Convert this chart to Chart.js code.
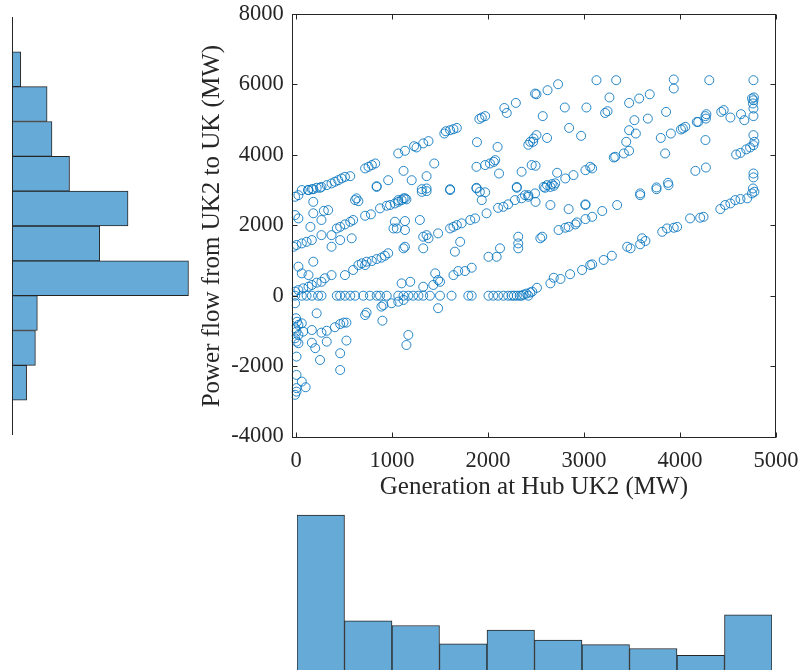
<!DOCTYPE html>
<html lang="en">
<head>
<meta charset="utf-8">
<title>Generation at Hub UK2 vs power flow to UK</title>
<script src="https://cdn.jsdelivr.net/npm/chart.js"></script>
<style>
  html, body { margin: 0; padding: 0; background: #fff; overflow: hidden; }
  body { width: 798px; height: 670px; position: relative; }
  canvas { position: absolute; }
</style>
</head>
<body>
<canvas id="leftHist" style="left:12px;top:17px" width="195" height="418"></canvas>
<canvas id="main" style="left:190px;top:0px" width="608" height="510"></canvas>
<canvas id="bottomHist" style="left:297px;top:509px" width="475" height="161"></canvas>

<script>
// [generation at hub UK2 (MW), power flow UK2 -> UK (MW)]
const scatterPoints = [
  [2490,5740],[2290,5475],[2170,5330],[2195,5190],[1970,5100],[1935,5060],[1910,5020],[1675,4765],[1640,4730],[1605,4700],
  [1560,4670],[1545,4605],[1885,4360],[2100,4225],[2420,4285],[2470,4370],[1380,4390],[1325,4325],[1255,4210],[1230,4245],
  [1135,4115],[1065,4040],[1440,3755],[1120,3545],[1205,3280],[1360,3395],[960,3280],[840,3110],[825,3755],[790,3710],
  [755,3660],[720,3615],[565,3395],[510,3375],[475,3330],[440,3280],[405,3235],[370,3190],[320,3140],[265,3090],
  [215,3065],[165,3025],[130,3000],[1880,3660],[1970,3710],[2020,3755],[2075,3850],[2115,3470],[2350,3520],[2455,3710],
  [1880,3065],[1605,3025],[1360,3045],[1310,3025],[2300,3090],
  [2505,5720],[2620,5835],[2730,6005],[3130,6120],[3335,6120],[3935,6140],[3935,5885],[4305,6120],[4765,6120],[3265,5630],
  [3685,5720],[3575,5600],[3470,5475],[2800,5345],[3025,5345],[3220,5190],[3245,5240],[2570,5100],[3525,4985],[3665,5030],
  [3855,5220],[4455,5270],[4430,5220],[4525,5060],[4265,5100],[4275,5155],[4175,4935],[4635,5155],[4670,4985],[4750,5600],
  [4770,5630],[4765,5550],[4760,5460],[4765,5315],[4765,5100],[2845,4765],[2970,4540],[2615,4480],[2505,4560],[2475,4465],
  [2440,4370],[3470,4700],[3540,4605],[3440,4370],[3470,4115],[3415,4040],[3310,3925],[3325,3945],[3800,4480],[3905,4605],
  [4010,4720],[4030,4750],[4055,4795],[4190,4935],[4270,5030],[4265,4420],[3845,4040],[4585,4010],[4630,4055],[4690,4155],
  [4730,4210],[4765,4275],[4775,4370],[4765,4560],[2495,3690],[2720,3490],[2615,3140],[2580,3090],[2665,3170],[2700,3190],
  [2805,3330],[2890,3425],[3015,3565],[3085,3615],[3065,3660],[4160,3545],[4270,3640],[3755,3075],[3875,3205],[4765,3470],
  [4765,3360],[4760,3045],
  [60,3000],[125,3000],[180,3025],[250,3065],[-10,2810],[25,2855],[840,3090],[1310,2950],[1360,2970],[1605,3000],
  [1880,3045],[1915,2950],[1970,2935],[1935,2715],[2300,3065],[180,2665],[615,2715],[650,2685],[1135,2765],[1100,2715],
  [1065,2665],[1030,2620],[980,2575],[945,2555],[875,2480],[780,2310],[720,2270],[-10,2290],[25,2195],[180,2340],
  [265,2150],[335,2430],[460,1955],[510,2025],[565,2100],[595,2150],[425,1910],[370,1720],[265,1720],[165,1580],
  [110,1530],[60,1485],[5,1440],[-25,1390],[370,1390],[460,1580],[580,1630],[1030,2100],[1015,1910],[1050,1910],
  [1135,2120],[1135,1865],[1290,2150],[1325,1675],[1360,1720],[1380,1630],[1325,1345],[1480,1770],[1605,1910],[1640,1955],
  [1675,2005],[1725,2055],[1815,2150],[1865,2195],[1985,2340],[2105,2495],[2160,2525],[2210,2595],[2280,2715],[2350,2765],
  [2420,2855],[2490,2905],[1710,1530],[1655,1250],[2005,1105],[2090,1105],[2125,1345],[2315,1675],[2315,1485],[2315,1345],
  [1135,1390],[1120,1345],[290,2410],[150,1955],[630,2765],[1065,2715],[1120,2765],[1150,2735],[2385,2855],[2420,2810],
  [3585,2905],[2060,3800],
  [650,870],[685,920],[735,965],[790,985],[840,1040],[890,1080],[925,1135],[960,1205],[720,870],[595,730],
  [510,585],[370,585],[300,495],[265,395],[215,370],[165,305],[130,255],[75,210],[25,160],[-10,115],
  [25,825],[180,965],[60,635],[130,585],[1450,635],[1480,445],[1640,585],[1690,700],[1760,700],[1830,795],
  [1100,350],[1190,395],[1325,255],[1430,305],[1500,395],
  [-10,0],[60,0],[110,0],[165,0],[230,0],[265,0],[425,0],[460,0],[510,0],[565,0],
  [615,0],[700,0],[770,0],[840,0],[875,0],[945,0],[1065,0],[1120,0],[1170,0],[1220,0],
  [1275,0],[1325,0],[1395,0],[1500,0],[1620,0],[1795,0],[1830,0],[2005,0],[2055,0],[2105,0],
  [2160,0],[2210,0],[2245,0],[2270,0],[2300,0],[2330,0],[2350,0],[2420,0],[2370,30],[2400,60],[2440,90],
  [2595,3065],[2650,3090],[2685,3120],[2495,2665],[2650,2575],[2840,2460],[3015,2595],[3015,2575],[3190,2405],[3345,2575],
  [3585,2855],[3755,3025],[3880,3140],[2545,1630],[2565,1675],[2735,1865],[2805,1930],[2840,1955],[2925,2080],[2910,2025],
  [3015,2175],[3085,2240],
  [2460,115],[2510,225],[2650,350],[2685,510],[2755,475],[2855,610],[2980,730],[3065,870],[3085,890],[3205,1015],
  [3290,1135],[3450,1390],[3485,1345],[3585,1460],[3640,1555],[3605,1630],[3815,1815],[3865,1910],[3935,1930],[3970,1955],
  [4105,2195],[4210,2215],[4245,2240],[4420,2460],[4470,2575],[4525,2620],[4575,2715],[4630,2745],[4700,2765],[4750,2905],
  [4775,2950],
  [-10,-215],[215,-500],[720,-550],[735,-480],[890,-310],[910,-265],[995,-215],[1065,-170],[1120,-120],[900,-710],
  [1480,-355],[0,-640],[10,-740],[25,-830],[-10,-925],[5,-1020],[25,-1115],[-10,-1210],[5,-1305],[25,-1350],
  [60,-785],[75,-1020],[165,-975],[265,-1050],[320,-995],[405,-895],[460,-805],[495,-765],[525,-765],[165,-1335],
  [200,-1490],[320,-1305],[525,-1275],[5,-1730],[250,-1825],[460,-1635],[460,-2110],[1170,-1115],[1150,-1400],[5,-2250],
  [60,-2440],[100,-2600],[5,-2625],[5,-2725],[-10,-2815]
];

const xTicks = [0, 1000, 2000, 3000, 4000, 5000];
const yTicks = [-4000, -2000, 0, 2000, 4000, 6000, 8000];

// marginal histogram of power flow (1000 MW bins, from -4000 up to 8000)
const flowBins = ['-4000', '-3000', '-2000', '-1000', '0', '1000', '2000', '3000', '4000', '5000', '6000', '7000'];
const flowCounts = [0, 15, 24, 26, 181, 90, 119, 59, 41, 36, 9, 0];

// marginal histogram of generation (10 bins of about 495 MW)
const genBins = ['0', '495', '990', '1485', '1980', '2475', '2970', '3465', '3960', '4455'];
const genCounts = [202, 64, 58, 34, 52, 39, 33, 28, 19, 72];

const ink = '#262626';
const serif = "'Liberation Serif', 'Times New Roman', serif";
const barFill = '#66aad7';

const frameTicks = {
  id: 'frameTicks',
  afterDraw(chart) {
    const { ctx, chartArea: a, scales: { x, y } } = chart;
    const L = Math.round(a.left) + 0.5, R = Math.round(a.right) - 0.5;
    const T = Math.round(a.top) + 0.5, B = Math.round(a.bottom) - 0.5;
    ctx.save();
    ctx.strokeStyle = ink;
    ctx.lineWidth = 1;
    ctx.strokeRect(L, T, R - L, B - T);
    ctx.beginPath();
    xTicks.forEach(v => {
      const px = Math.round(x.getPixelForValue(v)) + 0.5;
      ctx.moveTo(px, B); ctx.lineTo(px, B - 5);
      ctx.moveTo(px, T); ctx.lineTo(px, T + 5);
    });
    yTicks.forEach(v => {
      const py = Math.round(y.getPixelForValue(v)) + 0.5;
      ctx.moveTo(L, py); ctx.lineTo(L + 5, py);
      ctx.moveTo(R, py); ctx.lineTo(R - 5, py);
    });
    ctx.stroke();
    ctx.restore();
  }
};

const leftLine = {
  id: 'leftLine',
  afterDraw(chart) {
    const { ctx, chartArea: a } = chart;
    ctx.save();
    ctx.strokeStyle = ink;
    ctx.lineWidth = 1;
    ctx.beginPath();
    ctx.moveTo(Math.round(a.left) + 0.5, a.top);
    ctx.lineTo(Math.round(a.left) + 0.5, a.bottom);
    ctx.stroke();
    ctx.restore();
  }
};

new Chart(document.getElementById('main'), {
  type: 'scatter',
  data: {
    datasets: [{
      data: scatterPoints.map(p => ({ x: p[0], y: p[1] })),
      pointStyle: 'circle',
      pointRadius: 4.5,
      pointBorderWidth: 1,
      pointBorderColor: 'rgba(0,114,189,0.85)',
      pointBackgroundColor: 'rgba(0,0,0,0)'
    }]
  },
  options: {
    responsive: false,
    animation: false,
    layout: { padding: { top: 14, right: 22, left: 0, bottom: 0 } },
    plugins: { legend: { display: false }, tooltip: { enabled: false } },
    scales: {
      x: {
        type: 'linear', min: -45, max: 5000,
        afterFit: s => { s.height = 71.7; s.paddingLeft = 0; s.paddingRight = 0; },
        afterBuildTicks: s => { s.ticks = xTicks.map(v => ({ value: v })); },
        grid: { display: false, drawTicks: false },
        border: { display: false },
        ticks: { color: ink, padding: 9, maxRotation: 0, autoSkip: false, font: { family: serif, size: 22.5 }, callback: v => String(v) },
        title: { display: true, text: 'Generation at Hub UK2 (MW)', color: ink, font: { family: serif, size: 25 }, padding: { top: 0, bottom: 7.5 } }
      },
      y: {
        type: 'linear', min: -4050, max: 8000,
        afterFit: s => { s.width = 101.7; s.paddingTop = 0; s.paddingBottom = 0; },
        afterBuildTicks: s => { s.ticks = yTicks.map(v => ({ value: v })); },
        grid: { display: false, drawTicks: false },
        border: { display: false },
        ticks: { color: ink, padding: 8, autoSkip: false, font: { family: serif, size: 22.5 }, callback: v => String(v) },
        title: { display: true, text: 'Power flow from UK2 to UK (MW)', color: ink, font: { family: serif, size: 25 }, padding: { top: 7, bottom: 0 } }
      }
    }
  },
  plugins: [frameTicks]
});

new Chart(document.getElementById('leftHist'), {
  type: 'bar',
  data: {
    labels: flowBins,
    datasets: [{
      data: flowCounts,
      backgroundColor: barFill,
      borderColor: ink,
      borderWidth: 1,
      barPercentage: 1,
      categoryPercentage: 1
    }]
  },
  options: {
    indexAxis: 'y',
    responsive: false,
    animation: false,
    plugins: { legend: { display: false }, tooltip: { enabled: false } },
    scales: {
      x: { display: false, min: 0, max: 200 },
      y: { display: false, reverse: true }
    }
  },
  plugins: [leftLine]
});

new Chart(document.getElementById('bottomHist'), {
  type: 'bar',
  data: {
    labels: genBins,
    datasets: [{
      data: genCounts,
      backgroundColor: barFill,
      borderColor: ink,
      borderWidth: 1,
      barPercentage: 1,
      categoryPercentage: 1
    }]
  },
  options: {
    responsive: false,
    animation: false,
    plugins: { legend: { display: false }, tooltip: { enabled: false } },
    scales: {
      x: { display: false },
      y: { display: false, min: 0, max: 210 }
    }
  }
});
</script>
</body>
</html>
